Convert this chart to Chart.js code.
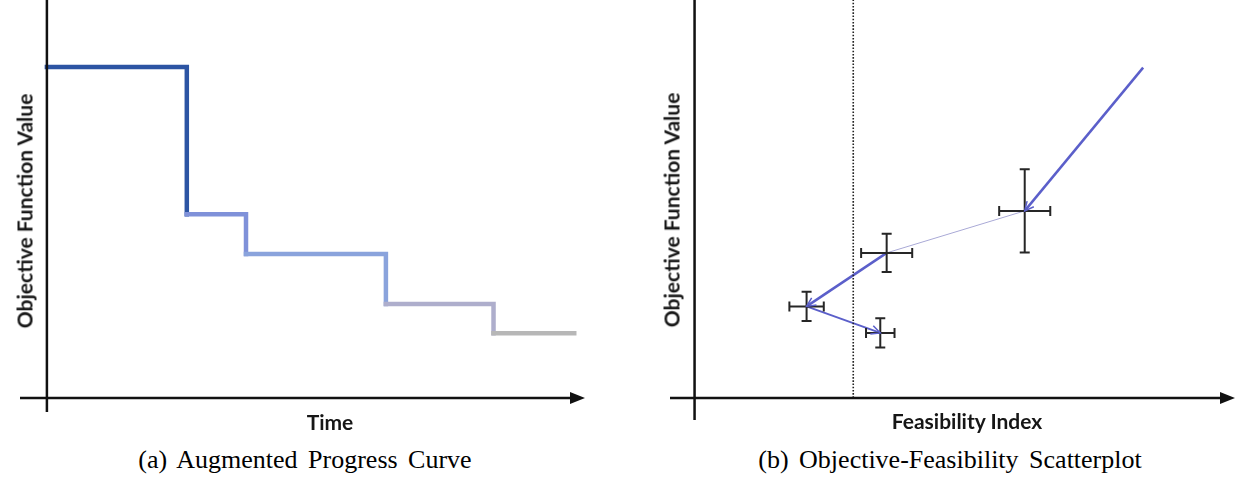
<!DOCTYPE html>
<html>
<head>
<meta charset="utf-8">
<script src="https://cdn.jsdelivr.net/npm/chart.js@4/dist/chart.umd.min.js"></script>
<style>
html, body { margin: 0; padding: 0; background: #fff; }
body { width: 1243px; height: 483px; position: relative; overflow: hidden; }
.panel { position: absolute; top: 0; height: 440px; }
#leftPanel { left: 0; width: 620px; }
#rightPanel { left: 620px; width: 623px; }
.axis-label { position: absolute; font-family: Lato, "Open Sans", sans-serif; font-weight: 700; font-size: 21px; color: #161616; white-space: nowrap; }
.ylabel { transform: translate(-50%, -50%) rotate(-90deg); }
.xlabel { transform: translate(-50%, -50%); }
.caption { position: absolute; top: 460px; font-family: "Liberation Serif", "Times New Roman", serif; font-size: 26px; word-spacing: 4px; color: #000; transform: translate(-50%, -50%); white-space: nowrap; }
</style>
</head>
<body>
<div class="panel" id="leftPanel"><canvas id="progressChart"></canvas></div>
<div class="panel" id="rightPanel"><canvas id="scatterChart"></canvas></div>

<div class="axis-label ylabel" style="left:24px; top:211px;">Objective Function Value</div>
<div class="axis-label xlabel" style="left:330px; top:421px;">Time</div>
<div class="axis-label ylabel" style="left:671px; top:210px;">Objective Function Value</div>
<div class="axis-label xlabel" style="left:967px; top:420px;">Feasibility Index</div>

<div class="caption" style="left:305px;">(a) Augmented Progress Curve</div>
<div class="caption" style="left:950px;">(b) Objective-Feasibility Scatterplot</div>

<script>
// (a) progress curve
const timeSteps = [0, 2.6, 3.7, 6.3, 8.3, 9.8];
const progressValues = [8.32, 4.62, 3.62, 2.36, 1.63, 1.63];
const stepColors = ["#2c54a3", "#7f91d9", "#8aa3dc", "#aeaecc", "#b7b7b7"];

// (b) objective-feasibility path
const feasibility = [9.13, 6.72, 3.91, 2.28, 3.78];
const objective = [7.47, 4.23, 3.28, 2.07, 1.47];
const feasErr = [null, 0.52, 0.52, 0.35, 0.29];
const objErr = [null, 0.94, 0.43, 0.33, 0.33];
const pathColors = ["#5b5fca", "#a9a9d6", "#5b5fca", "#5b5fca"];
const pathWidths = [2.5, 1, 2.5, 2];
const arrowPoints = [1, 3, 4];
const feasibilityThreshold = 3.23;

// axes crossing at 0 with an arrow on the horizontal one
const axesPlugin = {
    id: "crossAxes",
    afterDatasetsDraw(chart) {
        const { ctx, chartArea, scales } = chart;
        const x0 = scales.x.getPixelForValue(0);
        const y0 = scales.y.getPixelForValue(0);
        ctx.save();
        ctx.strokeStyle = "#111";
        ctx.fillStyle = "#111";
        ctx.lineWidth = 2.5;
        ctx.beginPath();
        ctx.moveTo(x0, chartArea.top);
        ctx.lineTo(x0, chartArea.bottom);
        ctx.moveTo(chartArea.left, y0);
        ctx.lineTo(chartArea.right - 10, y0);
        ctx.stroke();
        ctx.beginPath();
        ctx.moveTo(chartArea.right, y0);
        ctx.lineTo(chartArea.right - 15, y0 - 6);
        ctx.lineTo(chartArea.right - 15, y0 + 6);
        ctx.closePath();
        ctx.fill();
        ctx.restore();
    }
};

// error bars and arrow tips for the scatter path
const errorBarPlugin = {
    id: "errorBars",
    afterDatasetsDraw(chart) {
        const { ctx, scales } = chart;
        const xs = scales.x, ys = scales.y;
        const cap = 5;
        ctx.save();
        ctx.strokeStyle = "#262626";
        ctx.lineWidth = 2;
        feasibility.forEach((fx, i) => {
            if (feasErr[i] == null) return;
            const px = xs.getPixelForValue(fx);
            const py = ys.getPixelForValue(objective[i]);
            const l = xs.getPixelForValue(fx - feasErr[i]);
            const r = xs.getPixelForValue(fx + feasErr[i]);
            const t = ys.getPixelForValue(objective[i] + objErr[i]);
            const b = ys.getPixelForValue(objective[i] - objErr[i]);
            ctx.beginPath();
            ctx.moveTo(l, py); ctx.lineTo(r, py);
            ctx.moveTo(l, py - cap); ctx.lineTo(l, py + cap);
            ctx.moveTo(r, py - cap); ctx.lineTo(r, py + cap);
            ctx.moveTo(px, t); ctx.lineTo(px, b);
            ctx.moveTo(px - cap, t); ctx.lineTo(px + cap, t);
            ctx.moveTo(px - cap, b); ctx.lineTo(px + cap, b);
            ctx.stroke();
        });

        const pts = chart.getDatasetMeta(1).data;
        arrowPoints.forEach(i => {
            const a = pts[i - 1], p = pts[i];
            const ang = Math.atan2(p.y - a.y, p.x - a.x);
            const len = 10, spread = 0.45;
            ctx.strokeStyle = pathColors[i - 1];
            ctx.lineWidth = 1.5;
            ctx.beginPath();
            ctx.moveTo(p.x - len * Math.cos(ang - spread), p.y - len * Math.sin(ang - spread));
            ctx.lineTo(p.x, p.y);
            ctx.lineTo(p.x - len * Math.cos(ang + spread), p.y - len * Math.sin(ang + spread));
            ctx.stroke();
        });
        ctx.restore();
    }
};

const hiddenScales = (xmin, xmax, ymin, ymax) => ({
    x: { type: "linear", min: xmin, max: xmax, display: false },
    y: { type: "linear", min: ymin, max: ymax, display: false }
});

new Chart(document.getElementById("progressChart"), {
    type: "line",
    data: {
        datasets: [{
            data: timeSteps.map((t, i) => ({ x: t, y: progressValues[i] })),
            stepped: true,
            borderWidth: 4.5,
            borderCapStyle: "square",
            pointRadius: 0,
            segment: {
                borderColor: c => stepColors[c.p0DataIndex]
            }
        }]
    },
    options: {
        responsive: true,
        maintainAspectRatio: false,
        animation: false,
        events: [],
        layout: { padding: { left: 20, right: 35, top: 0, bottom: 28 } },
        plugins: { legend: { display: false }, tooltip: { enabled: false } },
        scales: hiddenScales(-0.5, 10, -0.35, 10)
    },
    plugins: [axesPlugin]
});

new Chart(document.getElementById("scatterChart"), {
    type: "line",
    data: {
        datasets: [
            {
                data: [{ x: feasibilityThreshold, y: 0 }, { x: feasibilityThreshold, y: 9 }],
                borderColor: "#222",
                borderWidth: 1.6,
                borderDash: [1.6, 1.6],
                pointRadius: 0
            },
            {
                data: feasibility.map((f, i) => ({ x: f, y: objective[i] })),
                pointRadius: 0,
                segment: {
                    borderColor: c => pathColors[c.p0DataIndex],
                    borderWidth: c => pathWidths[c.p0DataIndex]
                }
            }
        ]
    },
    options: {
        responsive: true,
        maintainAspectRatio: false,
        animation: false,
        events: [],
        layout: { padding: { left: 50, right: 8, top: 0, bottom: 20 } },
        plugins: { legend: { display: false }, tooltip: { enabled: false } },
        scales: hiddenScales(-0.5, 11, -0.5, 9)
    },
    plugins: [axesPlugin, errorBarPlugin]
});
</script>
</body>
</html>
